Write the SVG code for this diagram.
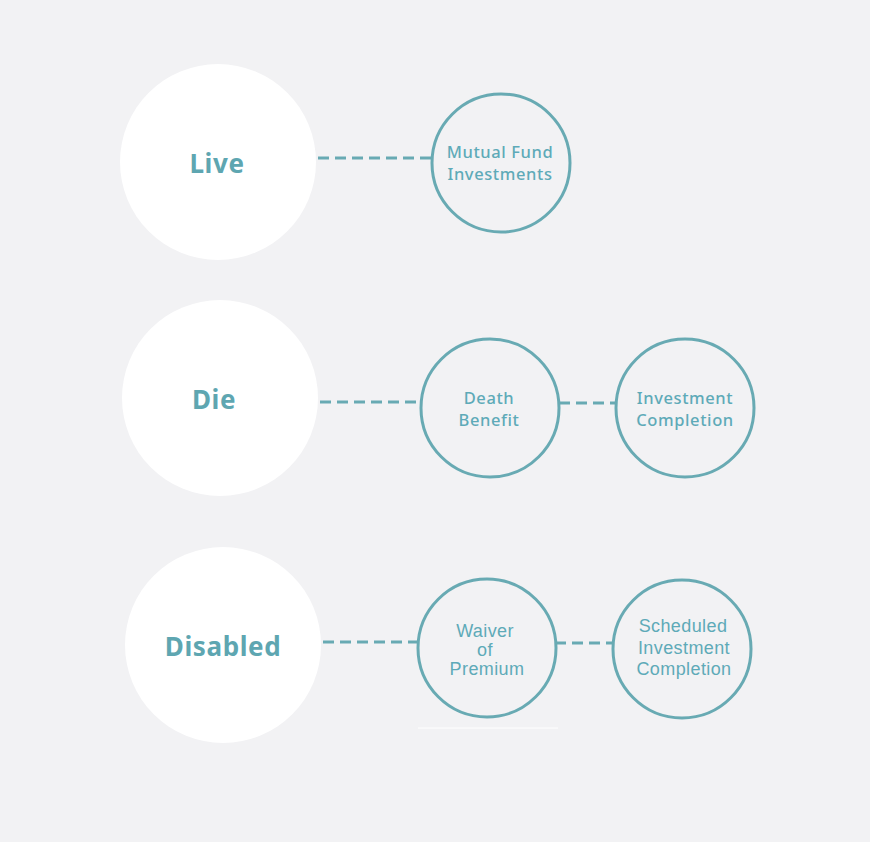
<svg xmlns="http://www.w3.org/2000/svg" width="870" height="842" viewBox="0 0 870 842">
<style>
.big{fill:#ffffff}
.small{fill:none;stroke:#68aab3;stroke-width:3}
.conn{stroke:#68aab3;stroke-width:3;stroke-dasharray:11 6;fill:none}
.bt{font-family:"Noto Sans","Open Sans",sans-serif;font-weight:700;font-size:26px;fill:#5ea6b1;text-anchor:middle;letter-spacing:0.6px}
.st{font-family:"Noto Sans","Open Sans",sans-serif;font-size:16.5px;font-weight:500;fill:#5eaab8;text-anchor:middle;letter-spacing:0.6px}
.at{font-family:"Liberation Sans",Arial,sans-serif;font-size:18px;fill:#5eaab8;text-anchor:middle;letter-spacing:0.4px}
</style>
<rect width="870" height="842" fill="#f2f2f4"/>
<g id="connectors">
<line class="conn" x1="318" y1="158" x2="433" y2="158"/>
<line class="conn" x1="320" y1="402" x2="421" y2="402"/>
<line class="conn" x1="559" y1="403" x2="617" y2="403"/>
<line class="conn" x1="323" y1="642" x2="418" y2="642"/>
<line class="conn" x1="555" y1="643" x2="613" y2="643"/>
</g>
<g id="live"><circle class="big" cx="218" cy="162" r="98"/><text class="bt" x="217" y="173">Live</text></g>
<g id="die"><circle class="big" cx="220" cy="398" r="98"/><text class="bt" x="214" y="409">Die</text></g>
<g id="disabled"><circle class="big" cx="223" cy="645" r="98"/><text class="bt" x="223" y="656">Disabled</text></g>
<g id="mutual"><circle class="small" cx="501" cy="163" r="69"/><text class="st" x="500" y="158">Mutual Fund</text><text class="st" x="500" y="180">Investments</text></g>
<g id="death"><circle class="small" cx="490" cy="408" r="69"/><text class="st" x="489" y="404">Death</text><text class="st" x="489" y="426">Benefit</text></g>
<g id="invcomp"><circle class="small" cx="685" cy="408" r="69"/><text class="st" x="685" y="404">Investment</text><text class="st" x="685" y="426">Completion</text></g>
<g id="waiver"><circle class="small" cx="487" cy="648" r="69"/><text class="at" x="485" y="637">Waiver</text><text class="at" x="485" y="656">of</text><text class="at" x="487" y="675">Premium</text></g>
<g id="scheduled"><circle class="small" cx="682" cy="649" r="69"/><text class="at" x="683" y="632">Scheduled</text><text class="at" x="684" y="654">Investment</text><text class="at" x="684" y="675">Completion</text></g>
<line x1="418" y1="728" x2="558" y2="728" stroke="#ffffff" stroke-width="1"/>
</svg>
